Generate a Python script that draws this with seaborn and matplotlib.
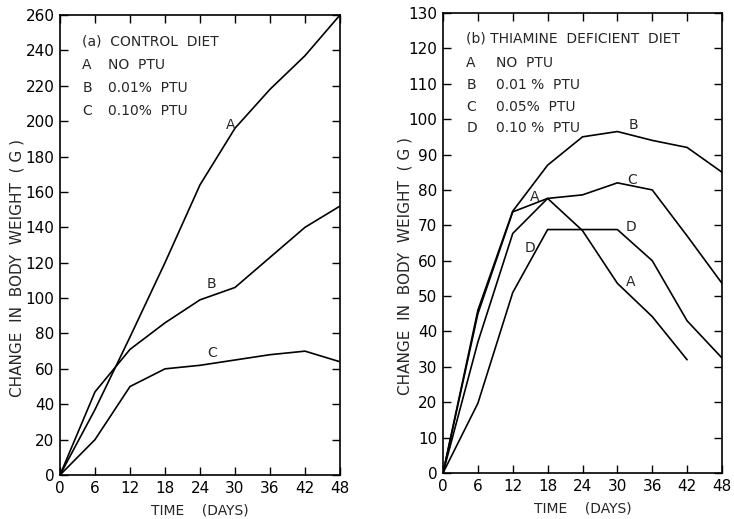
import numpy as np
import pandas as pd
import matplotlib
matplotlib.use("Agg")
import matplotlib.pyplot as plt
import seaborn as sns

# ---- data ----
days = [0, 6, 12, 18, 24, 30, 36, 42, 48]

# (a) control diet
ctrl_A = [0, 37, 78, 120, 164, 196, 218, 237, 260]
ctrl_B = [0, 47, 71, 86, 99, 106, 123, 140, 152]
ctrl_C = [0, 20, 50, 60, 62, 65, 68, 70, 64]

# (b) thiamine deficient diet
days_A = [0, 6, 12, 18, 24, 30, 36, 42]
thia_A = [0, 37, 67.7, 77.6, 68.5, 53.6, 44.2, 32]
thia_B = [0, 46, 74, 87, 95, 96.5, 94, 92, 85]
thia_C = [0, 45, 73.8, 77.6, 78.6, 82, 80, 67, 53.6]
thia_D = [0, 19.7, 51, 68.8, 68.8, 68.8, 60, 43, 32.5]

sns.set_style("ticks")
plt.rcParams['font.family'] = ['DejaVu Sans']

fig = plt.figure(figsize=(7.34, 5.19), dpi=100)
ax1 = fig.add_axes([60/734, 44/519, 280/734, 460/519])
ax2 = fig.add_axes([443/734, 46/519, 279/734, 460/519])

lw = 1.2
for ys in [ctrl_A, ctrl_B, ctrl_C]:
    sns.lineplot(x=days, y=ys, color='k', linewidth=lw, ax=ax1)
sns.lineplot(x=days_A, y=thia_A, color='k', linewidth=lw, ax=ax2)
for ys in [thia_B, thia_C, thia_D]:
    sns.lineplot(x=days, y=ys, color='k', linewidth=lw, ax=ax2)

fs = 10
for ax, ymax, ystep, lx in [(ax1, 260, 20, -0.125), (ax2, 130, 10, -0.11)]:
    ax.set_xlim(0, 48)
    ax.set_ylim(0, ymax)
    ax.set_xticks(days)
    ax.set_yticks(np.arange(0, ymax + 1, ystep))
    ax.tick_params(direction='in', top=True, right=True, length=6,
                   width=1, labelsize=11, pad=4, colors='k')
    for s in ax.spines.values():
        s.set_linewidth(1.2)
        s.set_color('k')
    ax.set_xlabel("TIME    (DAYS)", fontsize=fs, labelpad=6)
    ax.set_ylabel("CHANGE  IN  BODY  WEIGHT  ( G )", fontsize=11)
    ax.yaxis.set_label_coords(lx, 0.45)

# panel (a) key
ax1.text(3.8, 245, "(a)  CONTROL  DIET", fontsize=fs, va='center')
for lab, txt, y in [("A", "NO  PTU", 232), ("B", "0.01%  PTU", 219),
                    ("C", "0.10%  PTU", 206)]:
    ax1.text(3.8, y, lab, fontsize=fs, va='center')
    ax1.text(8.2, y, txt, fontsize=fs, va='center')
ax1.text(29.2, 198, "A", fontsize=fs, ha='center', va='center')
ax1.text(26, 108, "B", fontsize=fs, ha='center', va='center')
ax1.text(26.1, 69, "C", fontsize=fs, ha='center', va='center')

# panel (b) key
ax2.text(4.0, 122.9, "(b) THIAMINE  DEFICIENT  DIET", fontsize=fs, va='center')
for lab, txt, y in [("A", "NO  PTU", 115.8), ("B", "0.01 %  PTU", 109.7),
                    ("C", "0.05%  PTU", 103.5), ("D", "0.10 %  PTU", 97.4)]:
    ax2.text(4.0, y, lab, fontsize=fs, va='center')
    ax2.text(9.2, y, txt, fontsize=fs, va='center')
for lab, x, y in [("B", 32.8, 98.4), ("C", 32.5, 82.8), ("D", 32.3, 69.6),
                  ("A", 15.8, 78.1), ("D", 14.9, 63.5), ("A", 32.3, 54)]:
    ax2.text(x, y, lab, fontsize=fs, ha='center', va='center')

fig.savefig("out.png", dpi=100, facecolor='white')
